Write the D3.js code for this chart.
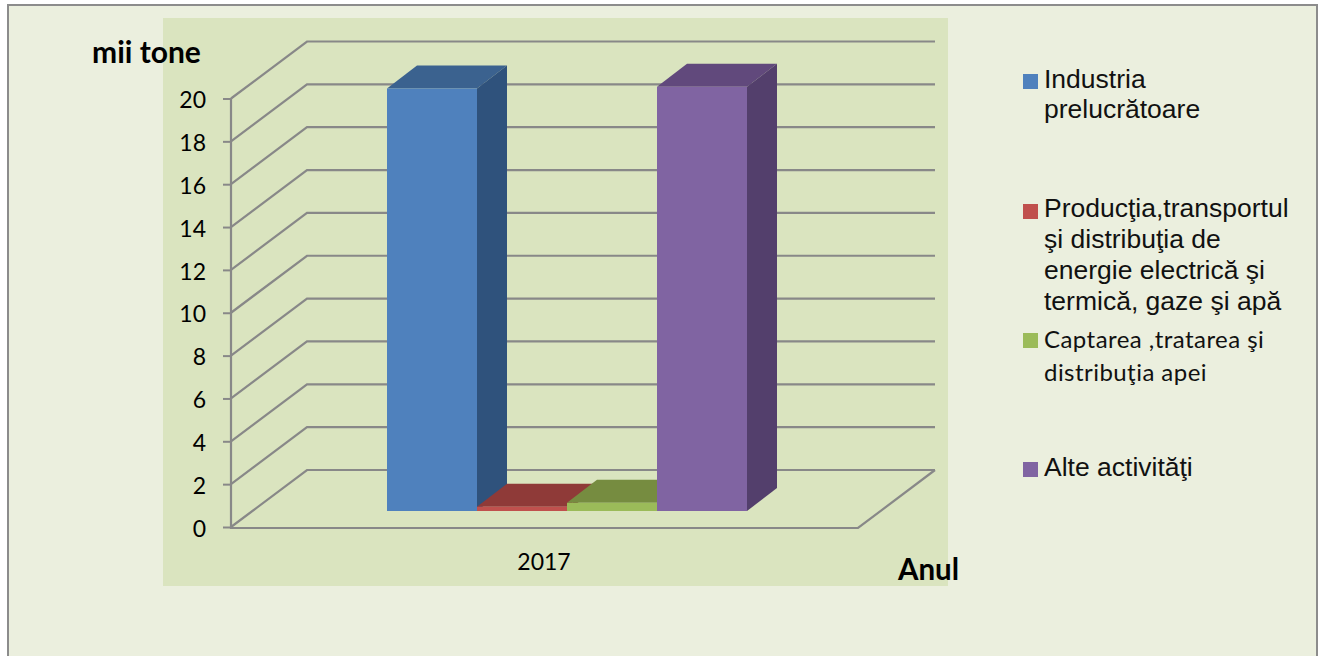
<!DOCTYPE html>
<html><head><meta charset="utf-8">
<script src="https://cdn.jsdelivr.net/npm/d3@7"></script>
<style>html,body{margin:0;padding:0;background:#fff}svg{display:block}</style>
</head><body><svg id="c" width="1318" height="656"></svg>
<script>
const seriesNames = ["Industria prelucrătoare","Producţia,transportul şi distribuţia de energie electrică şi termică, gaze şi apă","Captarea ,tratarea şi distribuţia apei","Alte activităţi"];
const seriesValues = [19.72, 0.2, 0.38, 19.8];
const frontColors = ["#4f81bd","#c0504d","#9bbb59","#8064a2"];
const sideColors = ["#2f527c","#7f3533","#667c3a","#533f6c"];
const topColors = ["#3b628f","#8f3a38","#768c40","#61497c"];
const yTicks = [0,2,4,6,8,10,12,14,16,18,20];
const category = ["2017"];
const legendLines = [["Industria","prelucrătoare"],["Producţia,transportul","şi distribuţia de","energie electrică şi","termică, gaze şi apă"],["Captarea ,tratarea şi","distribuţia apei"],["Alte activităţi"]];

const svg = d3.select("#c");
const gray="#888888";
const sans="'Liberation Sans', Arial, sans-serif", lato="Lato, 'Open Sans', sans-serif";

svg.append("rect").attr("x",8).attr("y",5).attr("width",1309).attr("height",700).attr("fill","#ebefde").attr("stroke","#8c8c8c").attr("stroke-width",2);
svg.append("rect").attr("x",163).attr("y",18).attr("width",785).attr("height",568).attr("fill","#dae4bf");

const y = d3.scaleLinear().domain([0,20]).range([527,98.5]);
const back={dx:76,dy:-57};
const x0=231, xR=858;
const wall = svg.append("g").attr("fill","none").attr("stroke",gray).attr("stroke-width",2.2);
yTicks.forEach(t=>{
  wall.append("polyline").attr("points",[[x0,y(t)],[x0+back.dx,y(t)+back.dy],[xR+back.dx+1,y(t)+back.dy]].map(p=>p.join(",")).join(" "));
});
wall.append("polyline").attr("points",[[x0,y(0)+1],[xR,y(0)+1],[xR+back.dx+1,y(0)+back.dy]].map(p=>p.join(",")).join(" "));
wall.append("line").attr("x1",x0).attr("x2",x0).attr("y1",y(20)).attr("y2",y(0)+2);
const axis = d3.axisLeft(y).tickValues(yTicks).tickSize(8).tickPadding(17).tickFormat(d3.format("d"));
const ag = svg.append("g").attr("transform",`translate(${x0},0)`).call(axis);
ag.select(".domain").remove();
ag.selectAll("line").attr("stroke",gray).attr("stroke-width",2);
ag.selectAll("text").attr("font-family",lato).attr("font-size",23).attr("fill","#000").attr("dy","0.4em");

const band = d3.scaleBand().domain(seriesNames).range([387,747]);
const zero=511, unit=(y(0)-y(1));
const depth={dx:30,dy:-23};
const bars = svg.append("g");
seriesNames.forEach((n,i)=>{
  const xl=band(n), w=band.bandwidth(), yt=zero-seriesValues[i]*unit;
  const g=bars.append("g");
  g.append("polygon").attr("points",[[xl,yt],[xl+w,yt],[xl+w+depth.dx,yt+depth.dy],[xl+depth.dx,yt+depth.dy]].join(" ")).attr("fill",topColors[i]);
  g.append("polygon").attr("points",[[xl+w,yt],[xl+w+depth.dx,yt+depth.dy],[xl+w+depth.dx,zero+depth.dy],[xl+w,zero]].join(" ")).attr("fill",sideColors[i]);
  g.append("rect").attr("x",xl).attr("y",yt).attr("width",w).attr("height",zero-yt).attr("fill",frontColors[i]);
});

svg.append("text").attr("x",544).attr("y",570).attr("text-anchor","middle").attr("font-family",lato).attr("font-size",23).text(category[0]);
svg.append("text").attr("x",92).attr("y",63).attr("font-family",lato).attr("font-weight","bold").attr("font-size",30).text("mii tone");
svg.append("text").attr("x",898).attr("y",580).attr("font-family",lato).attr("font-weight","bold").attr("font-size",29.5).text("Anul");

const swatchY=[74,204,333,462];
const baselines=[[88,118],[217,248,279,310],[348,381],[476]];
const lg=svg.append("g");
legendLines.forEach((ls,i)=>{
  lg.append("rect").attr("x",1023).attr("y",swatchY[i]).attr("width",15).attr("height",15).attr("fill",frontColors[i]);
  ls.forEach((t,j)=>{
    lg.append("text").attr("x",1044).attr("y",baselines[i][j])
      .attr("font-family",i==2?lato:sans).attr("font-size",i==2?24:26.5).attr("letter-spacing",i==2?0.45:0).attr("fill","#111").text(t);
  });
});
</script></body></html>
